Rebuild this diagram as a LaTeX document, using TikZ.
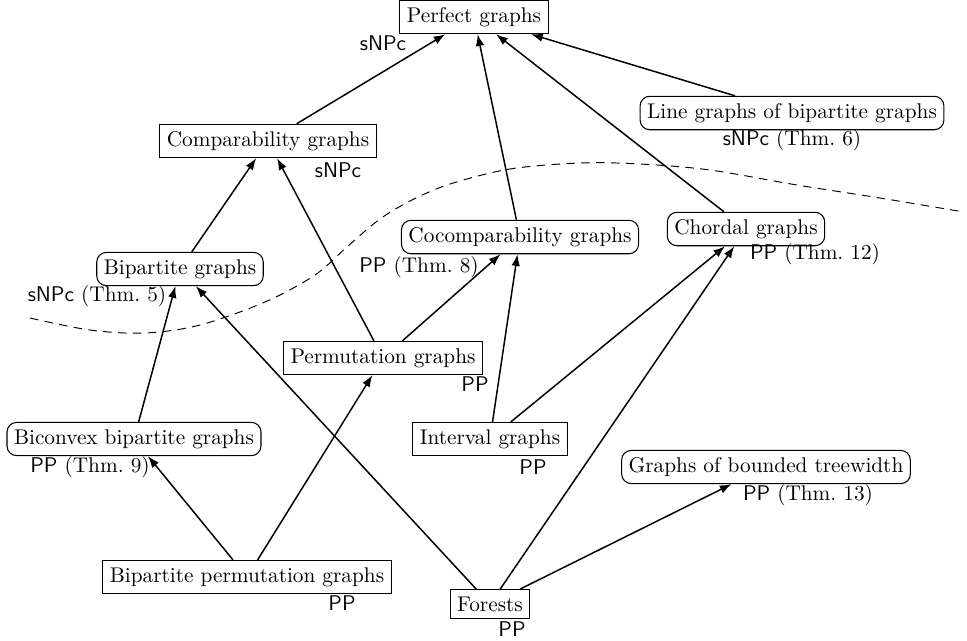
\documentclass[tikz,border=0pt]{standalone}
\usetikzlibrary{arrows.meta}
\begin{document}
\begin{tikzpicture}[x=0.47pt,y=-0.47pt,
  sq/.style={draw,line width=0.5pt,inner sep=3.3pt,fill=white},
  rd/.style={sq,rounded corners=4.5pt},
  lab/.style={inner sep=0pt},
  edge/.style={line width=0.7pt,-{Latex[length=5.5pt,width=4pt]}},
  sep/.style={line width=0.45pt,dash pattern=on 4pt off 3pt}]
\useasboundingbox (0,0) rectangle (967,640);
\newcommand{\sn}{\textsf{sNPc}}
\newcommand{\pp}{\textsf{PP}}
% separator
\draw[sep] plot[smooth,tension=0.55] coordinates {(30,318) (90,330) (145,333) (200,325) (265,302) (315,275) (348,246) (380,219) (412,200) (450,184) (510,169) (580,163) (640,164) (710,170) (797,185) (880,198) (964,212)};
% nodes
\node[sq] (perfect) at (474,17) {Perfect graphs};
\node[sq] (comp) at (268,141) {Comparability graphs};
\node[rd] (line) at (792,113) {Line graphs of bipartite graphs};
\node[rd] (chordal) at (746,229) {Chordal graphs};
\node[rd] (cocomp) at (520,237) {Cocomparability graphs};
\node[rd] (bip) at (180,269) {Bipartite graphs};
\node[sq] (perm) at (383,358) {Permutation graphs};
\node[rd] (biconvex) at (134,439) {Biconvex bipartite graphs};
\node[sq] (interval) at (490,439) {Interval graphs};
\node[rd] (tw) at (766,467) {Graphs of bounded treewidth};
\node[sq] (bipperm) at (247,577) {Bipartite permutation graphs};
\node[sq] (forests) at (490,604) {Forests};
% labels
\node[lab] (lperfect) at (383,43) {\sn};
\node[lab] (lcomp) at (338,170) {\sn};
\node[lab] (lline) at (792,140) {\sn{} (Thm.~6)};
\node[lab] (lchordal) at (815,254) {\pp{} (Thm.~12)};
\node[lab] (lcocomp) at (419,267) {\pp{} (Thm.~8)};
\node[lab] (lbip) at (97,296) {\sn{} (Thm.~5)};
\node[lab] (lperm) at (475,384) {\pp};
\node[lab] (lbiconvex) at (90,467) {\pp{} (Thm.~9)};
\node[lab] (linterval) at (533,467) {\pp};
\node[lab] (ltw) at (808,495) {\pp{} (Thm.~13)};
\node[lab] (lbipperm) at (342,603) {\pp};
\node[lab] (lforests) at (512,629) {\pp};
% edges
\draw[edge] (comp) -- (perfect);
\draw[edge] (cocomp) -- (perfect);
\draw[edge] (chordal) -- (perfect);
\draw[edge] (line) -- (perfect);
\draw[edge] (bip) -- (comp);
\draw[edge] (perm) -- (comp);
\draw[edge] (perm) -- (cocomp);
\draw[edge] (interval) -- (cocomp);
\draw[edge] (interval) -- (chordal);
\draw[edge] (biconvex) -- (bip);
\draw[edge] (forests) -- (bip);
\draw[edge] (forests) -- (chordal);
\draw[edge] (forests) -- (tw);
\draw[edge] (bipperm) -- (biconvex);
\draw[edge] (bipperm) -- (perm);
\end{tikzpicture}
\end{document}
